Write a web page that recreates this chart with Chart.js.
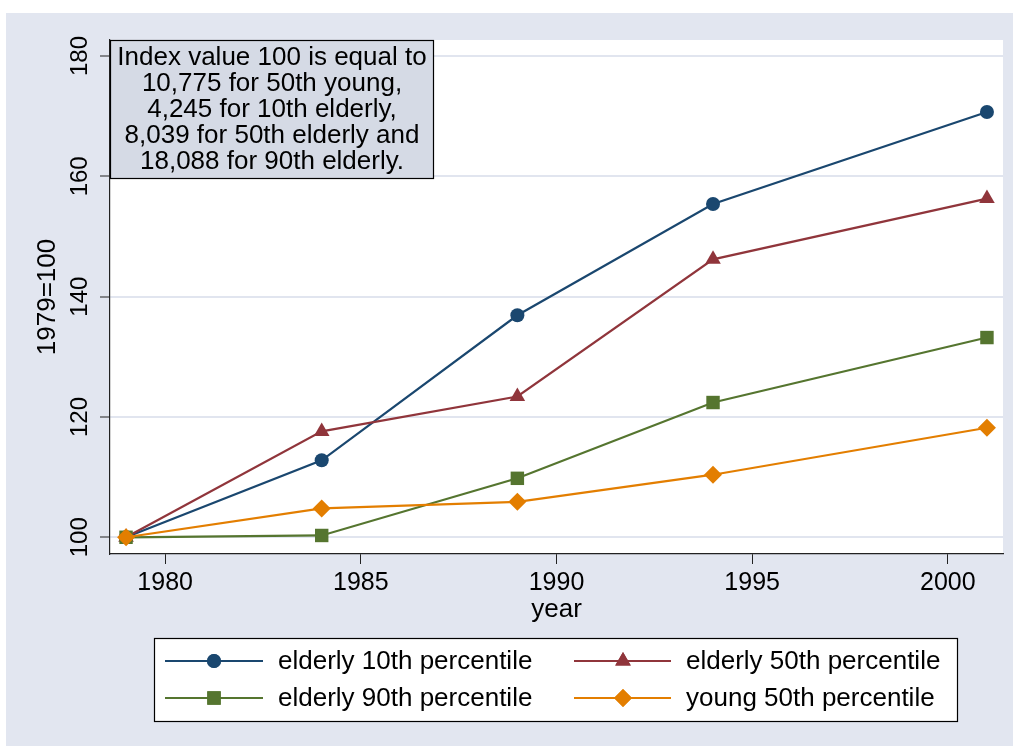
<!DOCTYPE html>
<html><head><meta charset="utf-8">
<script src="https://cdn.jsdelivr.net/npm/chart.js@4.4.0/dist/chart.umd.min.js"></script>
<style>html,body{margin:0;padding:0;background:#fff;}canvas{display:block;}</style>
</head><body>
<canvas id="c" width="1013" height="746"></canvas>
<script>
const years = [1979, 1984, 1989, 1994, 2001];
const elderly10 = [100, 112.8, 136.9, 155.4, 170.7];
const elderly50 = [100, 117.6, 123.4, 146.2, 156.3];
const elderly90 = [100, 100.3, 109.8, 122.4, 133.2];
const young50 = [100, 104.8, 105.9, 110.4, 118.2];
const seriesLabels = ['elderly 10th percentile', 'elderly 50th percentile', 'elderly 90th percentile', 'young 50th percentile'];
const xTicks = [1980, 1985, 1990, 1995, 2000];
const yTicks = [100, 120, 140, 160, 180];
const noteLines = ['Index value 100 is equal to', '10,775 for 50th young,', '4,245 for 10th elderly,', '8,039 for 50th elderly and', '18,088 for 90th elderly.'];
const yTitle = '1979=100';
const xTitle = 'year';

const FONT = '"Liberation Sans", Arial, Helvetica, sans-serif';
const BG = '#e2e6f0';
const BOX = '#d5dae5';
const GRID = '#e1e5ef';
const AXIS = '#222';
const colors = ['#1a476f', '#90353b', '#55752f', '#e37e00'];
const styles = ['circle', 'triangle', 'rect', 'rectRot'];
const radii = [7, 9, 9.5, 9];
const allSeries = [elderly10, elderly50, elderly90, young50];

function pts(vals) { return years.map((y, i) => ({x: y, y: vals[i]})); }

const datasets = allSeries.map((vals, i) => ({
  label: seriesLabels[i],
  data: pts(vals),
  borderColor: colors[i],
  backgroundColor: colors[i],
  pointBackgroundColor: colors[i],
  pointBorderColor: colors[i],
  pointBorderWidth: 0,
  borderWidth: 2.2,
  pointStyle: styles[i],
  pointRadius: radii[i],
  tension: 0,
  order: 4 - i
}));

const deco = {
  id: 'deco',
  beforeDraw(chart) {
    const ctx = chart.ctx, a = chart.chartArea;
    ctx.save();
    ctx.fillStyle = '#fff';
    ctx.fillRect(0, 0, chart.width, chart.height);
    ctx.fillStyle = BG;
    ctx.fillRect(6, 13, chart.width - 6, chart.height - 13);
    ctx.fillStyle = '#fff';
    ctx.fillRect(a.left, a.top, a.right - a.left, a.bottom - a.top);
    ctx.restore();
  },
  afterDraw(chart) {
    const ctx = chart.ctx, a = chart.chartArea, ys = chart.scales.y;
    ctx.save();
    ctx.fillStyle = '#000';
    ctx.font = '24px ' + FONT;
    ctx.textAlign = 'center';
    ctx.textBaseline = 'middle';
    ys.ticks.forEach(t => {
      const py = ys.getPixelForValue(t.value);
      ctx.save();
      ctx.translate(80, py);
      ctx.rotate(-Math.PI / 2);
      ctx.fillText(String(t.value), 0, 0);
      ctx.restore();
    });
    ctx.font = '26px ' + FONT;
    ctx.save();
    ctx.translate(48, (a.top + a.bottom) / 2);
    ctx.rotate(-Math.PI / 2);
    ctx.fillText(yTitle, 0, 0);
    ctx.restore();
    const bx = a.left + 0.5, by = a.top + 0.5, bw = 323, bh = 138;
    ctx.fillStyle = BOX;
    ctx.fillRect(bx, by, bw, bh);
    ctx.strokeStyle = '#000';
    ctx.lineWidth = 1.2;
    ctx.strokeRect(bx, by, bw, bh);
    ctx.fillStyle = '#000';
    ctx.font = '26px ' + FONT;
    noteLines.forEach((l, i) => ctx.fillText(l, bx + bw / 2, by + 17 + i * 26));
    const lx = 154.5, ly = 638.5, lw = 803, lh = 83;
    ctx.fillStyle = '#fff';
    ctx.fillRect(lx, ly, lw, lh);
    ctx.strokeStyle = '#000';
    ctx.lineWidth = 1.2;
    ctx.strokeRect(lx, ly, lw, lh);
    const cols = [{l0: 165, l1: 263, m: 214, t: 278}, {l0: 574, l1: 671, m: 623, t: 686}];
    const rows = [661, 698];
    ctx.font = '26px ' + FONT;
    ctx.textAlign = 'left';
    chart.data.datasets.forEach((ds, i) => {
      const c = cols[i % 2], ry = rows[Math.floor(i / 2)];
      ctx.strokeStyle = ds.borderColor;
      ctx.lineWidth = 2.2;
      ctx.beginPath(); ctx.moveTo(c.l0, ry); ctx.lineTo(c.l1, ry); ctx.stroke();
      ctx.fillStyle = ds.backgroundColor;
      Chart.helpers.drawPoint(ctx, {pointStyle: ds.pointStyle, radius: ds.pointRadius, borderWidth: 0, rotation: 0}, c.m, ry);
      ctx.fill();
      ctx.fillStyle = '#000';
      ctx.fillText(ds.label, c.t, ry + 1);
    });
    ctx.restore();
  }
};

new Chart(document.getElementById('c'), {
  type: 'line',
  data: {datasets},
  options: {
    responsive: false,
    animation: false,
    devicePixelRatio: 1,
    layout: {padding: {left: 0, top: 40, right: 10, bottom: 0}},
    plugins: {legend: {display: false}, tooltip: {enabled: false}},
    scales: {
      x: {
        type: 'linear',
        min: 1978.59, max: 2001.41,
        afterBuildTicks: s => { s.ticks = xTicks.map(v => ({value: v})); },
        afterFit: s => { s.height = 192; },
        grid: {drawOnChartArea: false, tickLength: 10, tickColor: AXIS, tickWidth: 1},
        border: {color: AXIS, width: 1.2},
        ticks: {color: '#000', font: {family: FONT, size: 25}, padding: 4, maxRotation: 0, callback: v => String(v)},
        title: {display: true, text: xTitle, color: '#000', font: {family: FONT, size: 26}, padding: {top: 0, bottom: 121}}
      },
      y: {
        type: 'linear',
        min: 97.22, max: 182.66,
        afterBuildTicks: s => { s.ticks = yTicks.map(v => ({value: v})); },
        afterFit: s => { s.width = 110; },
        grid: {color: GRID, lineWidth: 2, tickLength: 10, tickColor: AXIS, tickWidth: 1},
        border: {color: AXIS, width: 1.2},
        ticks: {display: false}
      }
    }
  },
  plugins: [deco]
});
</script>
</body></html>
